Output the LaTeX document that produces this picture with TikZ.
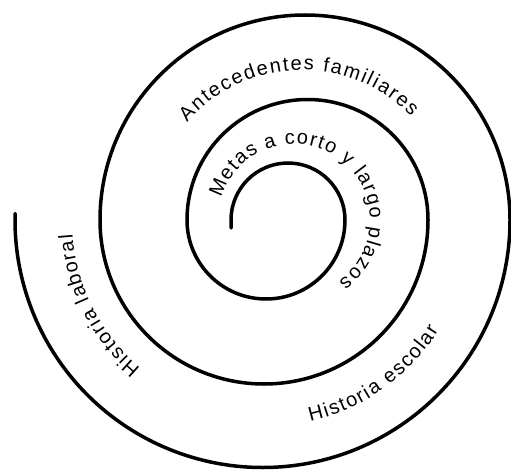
\documentclass[tikz,border=0pt]{standalone}
\usepackage{fontspec}
\setmainfont{Liberation Sans}
\usepackage{tikz}
\usetikzlibrary{decorations.text}

\newcommand{\spiralfont}{\fontsize{20}{24}\selectfont}

\begin{document}
\begin{tikzpicture}[
		x=1pt, y=1pt,
		spiralline/.style={
			draw,
			line width=3.5pt,
			line cap=round
		},
		pathtext/.style={
			decorate,
			decoration={
				text along path,
				text format delimiters={|}{|},
				text={|\spiralfont|#1},
				text align=fit to path
			}
		}
		]
		
		\useasboundingbox (0,0) rectangle (511,-476);
		
		% Spiral, from the centre outwards
		\path[spiralline] (231,-228) -- (231,-220)
			arc[start angle=180, end angle=0, radius=57]
			arc[start angle=0, end angle=-180, radius=79]
			arc[start angle=180, end angle=0, radius=120.5]
			arc[start angle=0, end angle=-180, radius=164]
			arc[start angle=180, end angle=0, radius=205]
			arc[start angle=0, end angle=-181.5, radius=247.5];
		
		% Texts along the turns
		\path[pathtext={Metas a corto y largo plazos}]
			([shift={(163:76)}]294,-220) arc[start angle=163, end angle=-54, radius=76];
		
		\path[pathtext={Antecedentes familiares}]
			([shift={(139:152)}]302,-222) arc[start angle=139, end angle=44, radius=152];
		
		\path[pathtext={Historia escolar}]
			([shift={(-77:206)}]264,-221) arc[start angle=-77, end angle=-32, radius=206];
		
		\path[pathtext={Historia laboral}]
			([shift={(230:192)}]264,-221) arc[start angle=230, end angle=184, radius=192];
		
	\end{tikzpicture}
\end{document}
